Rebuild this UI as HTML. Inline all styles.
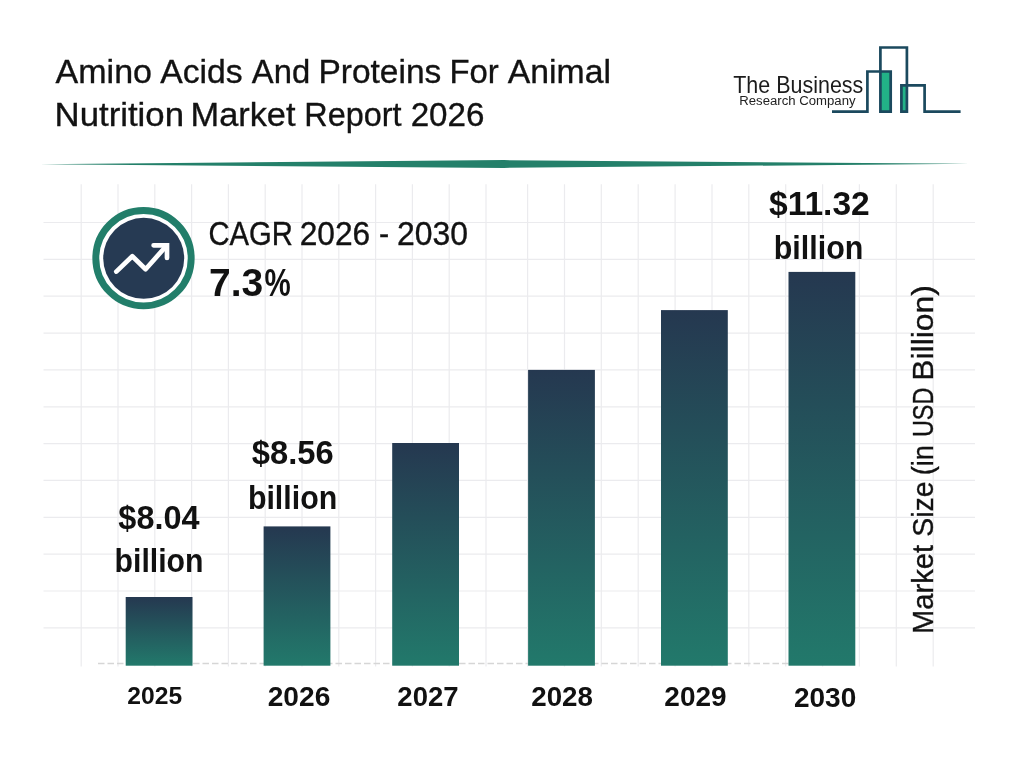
<!DOCTYPE html>
<html lang="en">
<head>
<meta charset="utf-8">
<title>Amino Acids And Proteins For Animal Nutrition Market Report 2026</title>
<style>
html,body{margin:0;padding:0;background:#fff;}
body{width:1024px;height:768px;overflow:hidden;position:relative;}
svg{position:absolute;left:0;top:0;display:block;}
text{font-family:"Liberation Sans",sans-serif;}
.r{stroke:#121212;stroke-width:0.35px;}
</style>
</head>
<body>
<svg width="1024" height="768" viewBox="0 0 1024 768" role="img" aria-label="Amino Acids And Proteins For Animal Nutrition Market Report 2026">
<defs>
<linearGradient id="bg" x1="0" y1="0" x2="0" y2="1">
<stop offset="0" stop-color="#253850"/>
<stop offset="1" stop-color="#22796b"/>
</linearGradient>
</defs>
<rect x="0" y="0" width="1024" height="768" fill="#ffffff"/>
<!-- background grid -->
<g stroke="#ebebee" stroke-width="1.2" fill="none">
<line x1="81.2" y1="184.2" x2="81.2" y2="666.5"/>
<line x1="118.0" y1="184.2" x2="118.0" y2="666.5"/>
<line x1="154.8" y1="184.2" x2="154.8" y2="666.5"/>
<line x1="191.6" y1="184.2" x2="191.6" y2="666.5"/>
<line x1="228.4" y1="184.2" x2="228.4" y2="666.5"/>
<line x1="265.2" y1="184.2" x2="265.2" y2="666.5"/>
<line x1="302.0" y1="184.2" x2="302.0" y2="666.5"/>
<line x1="338.8" y1="184.2" x2="338.8" y2="666.5"/>
<line x1="375.6" y1="184.2" x2="375.6" y2="666.5"/>
<line x1="412.4" y1="184.2" x2="412.4" y2="666.5"/>
<line x1="449.2" y1="184.2" x2="449.2" y2="666.5"/>
<line x1="486.0" y1="184.2" x2="486.0" y2="666.5"/>
<line x1="527.6" y1="184.2" x2="527.6" y2="666.5"/>
<line x1="564.5" y1="184.2" x2="564.5" y2="666.5"/>
<line x1="601.3" y1="184.2" x2="601.3" y2="666.5"/>
<line x1="638.2" y1="184.2" x2="638.2" y2="666.5"/>
<line x1="675.1" y1="184.2" x2="675.1" y2="666.5"/>
<line x1="712.0" y1="184.2" x2="712.0" y2="666.5"/>
<line x1="748.8" y1="184.2" x2="748.8" y2="666.5"/>
<line x1="785.7" y1="184.2" x2="785.7" y2="666.5"/>
<line x1="822.6" y1="184.2" x2="822.6" y2="666.5"/>
<line x1="859.4" y1="184.2" x2="859.4" y2="666.5"/>
<line x1="896.3" y1="184.2" x2="896.3" y2="666.5"/>
<line x1="933.2" y1="184.2" x2="933.2" y2="666.5"/>
<line x1="43.5" y1="222.5" x2="975" y2="222.5"/>
<line x1="43.5" y1="259.4" x2="975" y2="259.4"/>
<line x1="43.5" y1="296.2" x2="975" y2="296.2"/>
<line x1="43.5" y1="333.1" x2="975" y2="333.1"/>
<line x1="43.5" y1="369.9" x2="975" y2="369.9"/>
<line x1="43.5" y1="406.8" x2="975" y2="406.8"/>
<line x1="43.5" y1="443.6" x2="975" y2="443.6"/>
<line x1="43.5" y1="480.4" x2="975" y2="480.4"/>
<line x1="43.5" y1="517.3" x2="975" y2="517.3"/>
<line x1="43.5" y1="554.2" x2="975" y2="554.2"/>
<line x1="43.5" y1="591.0" x2="975" y2="591.0"/>
<line x1="43.5" y1="627.9" x2="975" y2="627.9"/>
</g>
<!-- header rule -->
<polygon points="40,164.2 504,160.1 969,163.8 504,167.9" fill="#24806a"/>
<!-- axis baseline -->
<line x1="98" y1="663.5" x2="858" y2="663.5" stroke="#d6d6d6" stroke-width="1.5" stroke-dasharray="6.5 3"/>
<!-- bars -->
<rect x="125.7" y="597.0" width="66.8" height="68.7" fill="url(#bg)"/>
<rect x="263.6" y="526.4" width="66.8" height="139.3" fill="url(#bg)"/>
<rect x="392.2" y="443.0" width="66.8" height="222.7" fill="url(#bg)"/>
<rect x="528.1" y="369.9" width="66.8" height="295.8" fill="url(#bg)"/>
<rect x="661.0" y="310.1" width="66.8" height="355.6" fill="url(#bg)"/>
<rect x="788.5" y="271.9" width="66.8" height="393.8" fill="url(#bg)"/>
<!-- CAGR icon -->
<circle cx="143.5" cy="258.2" r="47.7" fill="#ffffff" stroke="#227e6a" stroke-width="6.9"/>
<circle cx="143.7" cy="258.3" r="40.5" fill="#263a53"/>
<path d="M116.3,271.6 L132.3,256.3 L145.6,269.2 L166.4,245.9" fill="none" stroke="#fff" stroke-width="4.7" stroke-linecap="round" stroke-linejoin="round"/>
<path d="M153.6,245.3 H167 V258" fill="none" stroke="#fff" stroke-width="4.7" stroke-linecap="round" stroke-linejoin="miter"/>
<!-- logo -->
<rect x="880.4" y="71.5" width="10.3" height="40.1" fill="#22b287"/>
<rect x="901.4" y="85.3" width="5.5" height="26.3" fill="#22b287"/>
<path d="M832,111.6 H867.4 V71.5 H890.7 V111.6 H880.4 V47.5 H906.9 V111.6 H901.4 V85.3 H924.6 V111.6 H960.6" fill="none" stroke="#1b495e" stroke-width="2.7" stroke-linejoin="miter"/>
<!-- text -->
<text class="r" font-size="34" font-weight="400" fill="#121212"><tspan id="t1a" class="m" x="55.57" y="83.00" textLength="96.47" lengthAdjust="spacingAndGlyphs">Amino</tspan> <tspan id="t1b" class="m" x="160.17" y="83.00" textLength="82.47" lengthAdjust="spacingAndGlyphs">Acids</tspan> <tspan id="t1c" class="m" x="251.87" y="83.00" textLength="58.31" lengthAdjust="spacingAndGlyphs">And</tspan> <tspan id="t1d" class="m" x="318.41" y="83.00" textLength="122.86" lengthAdjust="spacingAndGlyphs">Proteins</tspan> <tspan id="t1e" class="m" x="449.42" y="83.00" textLength="49.32" lengthAdjust="spacingAndGlyphs">For</tspan> <tspan id="t1f" class="m" x="507.74" y="83.00" textLength="103.24" lengthAdjust="spacingAndGlyphs">Animal</tspan></text>
<text class="r" font-size="34" font-weight="400" fill="#121212"><tspan id="t2a" class="m" x="54.56" y="126.00" textLength="129.42" lengthAdjust="spacingAndGlyphs">Nutrition</tspan> <tspan id="t2b" class="m" x="190.53" y="126.00" textLength="105.00" lengthAdjust="spacingAndGlyphs">Market</tspan> <tspan id="t2c" class="m" x="304.28" y="126.00" textLength="97.16" lengthAdjust="spacingAndGlyphs">Report</tspan> <tspan id="t2d" class="m" x="410.63" y="126.00" textLength="73.79" lengthAdjust="spacingAndGlyphs">2026</tspan></text>
<text class="r" font-size="32.6" font-weight="400" fill="#121212"><tspan id="c1" class="m" x="208.44" y="245.00" textLength="84.50" lengthAdjust="spacingAndGlyphs">CAGR</tspan> <tspan id="c2" class="m" x="299.69" y="245.00" textLength="70.59" lengthAdjust="spacingAndGlyphs">2026</tspan> <tspan id="c3" class="m" x="378.99" y="245.00" textLength="10.17" lengthAdjust="spacingAndGlyphs">-</tspan> <tspan id="c4" class="m" x="397.09" y="245.00" textLength="71.04" lengthAdjust="spacingAndGlyphs">2030</tspan></text>
<text font-size="38.7" font-weight="700" fill="#111111"><tspan id="pct1" class="m" x="209.01" y="296.00" textLength="54.26" lengthAdjust="spacingAndGlyphs">7.3</tspan><tspan id="pct2" class="m" x="264.46" y="296.00" textLength="26.22" lengthAdjust="spacingAndGlyphs">%</tspan></text>
<text font-size="32.3" font-weight="700" fill="#111111"><tspan id="v1a" class="m" x="118.35" y="529.00" textLength="81.15" lengthAdjust="spacingAndGlyphs">$8.04</tspan> <tspan id="v1b" class="m" x="114.57" y="572.00" textLength="88.93" lengthAdjust="spacingAndGlyphs">billion</tspan></text>
<text font-size="32.3" font-weight="700" fill="#111111"><tspan id="v2a" class="m" x="251.78" y="464.00" textLength="81.84" lengthAdjust="spacingAndGlyphs">$8.56</tspan> <tspan id="v2b" class="m" x="247.88" y="509.00" textLength="89.35" lengthAdjust="spacingAndGlyphs">billion</tspan></text>
<text font-size="32.3" font-weight="700" fill="#111111"><tspan id="v3a" class="m" x="768.99" y="215.00" textLength="100.79" lengthAdjust="spacingAndGlyphs">$11.32</tspan> <tspan id="v3b" class="m" x="773.77" y="259.00" textLength="89.62" lengthAdjust="spacingAndGlyphs">billion</tspan></text>
<text font-size="24.2" font-weight="700" fill="#111111"><tspan id="y25" class="m" x="127.37" y="704.00" textLength="54.86" lengthAdjust="spacingAndGlyphs">2025</tspan></text>
<text font-size="27.4" font-weight="700" fill="#111111"><tspan id="y26" class="m" x="267.66" y="706.00" textLength="62.63" lengthAdjust="spacingAndGlyphs">2026</tspan></text>
<text font-size="27.4" font-weight="700" fill="#111111"><tspan id="y27" class="m" x="397.39" y="706.00" textLength="61.17" lengthAdjust="spacingAndGlyphs">2027</tspan></text>
<text font-size="27.4" font-weight="700" fill="#111111"><tspan id="y28" class="m" x="531.22" y="706.00" textLength="61.71" lengthAdjust="spacingAndGlyphs">2028</tspan></text>
<text font-size="27.4" font-weight="700" fill="#111111"><tspan id="y29" class="m" x="664.34" y="706.00" textLength="62.23" lengthAdjust="spacingAndGlyphs">2029</tspan></text>
<text font-size="27.4" font-weight="700" fill="#111111"><tspan id="y30" class="m" x="793.91" y="707.00" textLength="62.33" lengthAdjust="spacingAndGlyphs">2030</tspan></text>
<text font-size="23.2" font-weight="400" fill="#1c1c1c"><tspan id="lg1" class="m" x="733.28" y="93.00" textLength="130.00" lengthAdjust="spacingAndGlyphs">The Business</tspan></text>
<text font-size="12" font-weight="400" fill="#222222"><tspan id="lg2" class="m" x="739.27" y="105.00" textLength="116.30" lengthAdjust="spacingAndGlyphs">Research Company</tspan></text>
<text class="r" transform="translate(933.00 700) rotate(-90)" font-size="30" font-weight="400" fill="#121212"><tspan id="r1" class="m" x="66.00" y="0" textLength="88.98" lengthAdjust="spacingAndGlyphs">Market</tspan> <tspan id="r2" class="m" x="163.21" y="0" textLength="55.38" lengthAdjust="spacingAndGlyphs">Size</tspan> <tspan id="r3" class="m" x="224.78" y="0" textLength="30.17" lengthAdjust="spacingAndGlyphs">(in</tspan> <tspan id="r4" class="m" x="262.92" y="0" textLength="49.48" lengthAdjust="spacingAndGlyphs">USD</tspan> <tspan id="r5" class="m" x="319.23" y="0" textLength="95.74" lengthAdjust="spacingAndGlyphs">Billion)</tspan></text>
</svg>
</body>
</html>
